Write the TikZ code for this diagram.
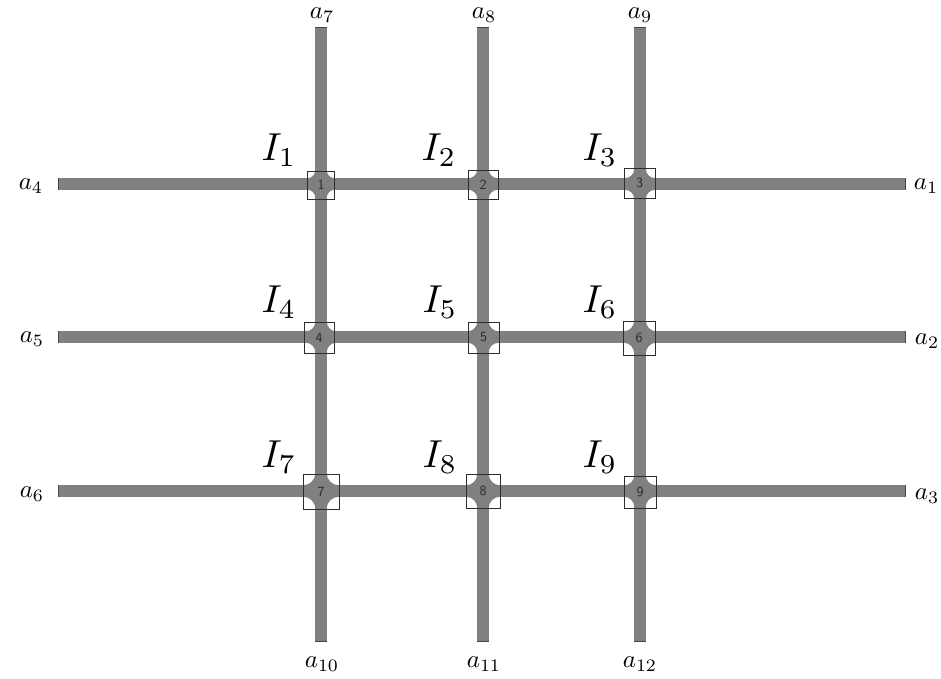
\documentclass[tikz,border=0pt]{standalone}
\usepackage{graphicx}
\definecolor{roadgray}{RGB}{128,128,128}
\definecolor{boxline}{RGB}{45,45,45}
\definecolor{numcol}{RGB}{40,40,40}
\tikzset{
  road/.style={draw=roadgray, line width=11.5pt},
  roadend/.style={draw=boxline!70!roadgray, line width=1pt},
  jfill/.style={fill=roadgray, draw=none},
  jbox/.style={draw=boxline, line width=0.9pt, fill=none, inner sep=0pt,
    font=\sffamily, text=numcol},
  alabel/.style={inner sep=0pt},
  ilabel/.style={inner sep=0pt}
}
\newcommand\aLab[1]{\scalebox{2.5}{$a_{#1}$}}
\newcommand\iLab[1]{\scalebox{3.9}{$I_{#1}$}}
% #1 name, #2 cx, #3 cy, #4 half width, #5 half height, #6 box cx, #7 box cy, #8 number
\newcommand\myjunc[8]{%
  \pgfmathsetmacro\rx{#4-5.75}\pgfmathsetmacro\ry{#5-5.75}%
  \begin{scope}[shift={(#2,#3)}]
    \fill[jfill] (5.75,#5) .. controls (5.75,{#5-0.55*\ry}) and ({#4-0.55*\rx},5.75) .. (#4,5.75)
      -- (#4,-5.75) .. controls ({#4-0.55*\rx},-5.75) and (5.75,{-#5+0.55*\ry}) .. (5.75,-#5)
      -- (-5.75,-#5) .. controls (-5.75,{-#5+0.55*\ry}) and ({-#4+0.55*\rx},-5.75) .. (-#4,-5.75)
      -- (-#4,5.75) .. controls ({-#4+0.55*\rx},5.75) and (-5.75,{#5-0.55*\ry}) .. (-5.75,#5) -- cycle;
  \end{scope}
  \node[jbox, minimum width={2*#4*1pt}, minimum height={2*#5*1pt}] (#1) at (#6,#7) {\scalebox{1.4}{#8}};
}
\begin{document}
\begin{tikzpicture}[x=1pt,y=-1pt]
\useasboundingbox (0,0) rectangle (941,678);
% road end points
\coordinate (h1w) at (58,184); \coordinate (h1e) at (905,184);
\coordinate (h2w) at (58,337); \coordinate (h2e) at (905,337);
\coordinate (h3w) at (58,491); \coordinate (h3e) at (905,491);
\coordinate (v1n) at (321,27); \coordinate (v1s) at (321,641);
\coordinate (v2n) at (483,27); \coordinate (v2s) at (483,641);
\coordinate (v3n) at (640,27); \coordinate (v3s) at (640,641);
% roads
\foreach \r in {h1,h2,h3}{ \draw[road] (\r w) -- (\r e); }
\foreach \r in {v1,v2,v3}{ \draw[road] (\r n) -- (\r s); }
% road end caps
\foreach \r in {h1w,h1e,h2w,h2e,h3w,h3e}{
  \draw[roadend] ([yshift=5.75pt]\r) -- ([yshift=-5.75pt]\r);
}
\foreach \r in {v1n,v1s,v2n,v2s,v3n,v3s}{
  \draw[roadend] ([xshift=-5.75pt]\r) -- ([xshift=5.75pt]\r);
}
% junctions
\myjunc{j1}{321}{184}{13.5}{14}{321}{185}{1}
\myjunc{j2}{483}{184}{15}{14.5}{483}{184.5}{2}
\myjunc{j3}{640}{184}{15.5}{15}{639.5}{183}{3}
\myjunc{j4}{321}{337}{15}{15.5}{319}{337.5}{4}
\myjunc{j5}{483}{337}{15.5}{15.5}{483.5}{337.5}{5}
\myjunc{j6}{640}{337}{16}{17}{639}{338}{6}
\myjunc{j7}{321}{491}{18}{17.5}{321}{491.5}{7}
\myjunc{j8}{483}{491}{17}{17}{483}{491}{8}
\myjunc{j9}{640}{491}{16}{16}{640}{492}{9}
% intersection labels
\node[ilabel] (I1) at (279,150) {\iLab{1}};
\node[ilabel] (I2) at (439,150) {\iLab{2}};
\node[ilabel] (I3) at (600,150) {\iLab{3}};
\node[ilabel] (I4) at (279,302) {\iLab{4}};
\node[ilabel] (I5) at (440,302) {\iLab{5}};
\node[ilabel] (I6) at (600,302) {\iLab{6}};
\node[ilabel] (I7) at (279,457) {\iLab{7}};
\node[ilabel] (I8) at (440,457) {\iLab{8}};
\node[ilabel] (I9) at (600,457) {\iLab{9}};
% arm labels
\node[alabel] (a4) at (31,186) {\aLab{4}};
\node[alabel] (a5) at (32,339) {\aLab{5}};
\node[alabel] (a6) at (32,494) {\aLab{6}};
\node[alabel] (a1) at (926,186) {\aLab{1}};
\node[alabel] (a2) at (927,341) {\aLab{2}};
\node[alabel] (a3) at (927,496) {\aLab{3}};
\node[alabel] (a7) at (322,15) {\aLab{7}};
\node[alabel] (a8) at (484,15) {\aLab{8}};
\node[alabel] (a9) at (640,15) {\aLab{9}};
\node[alabel] (a10) at (322,664) {\aLab{10}};
\node[alabel] (a11) at (484,664) {\aLab{11}};
\node[alabel] (a12) at (640,664) {\aLab{12}};
\end{tikzpicture}
\end{document}
